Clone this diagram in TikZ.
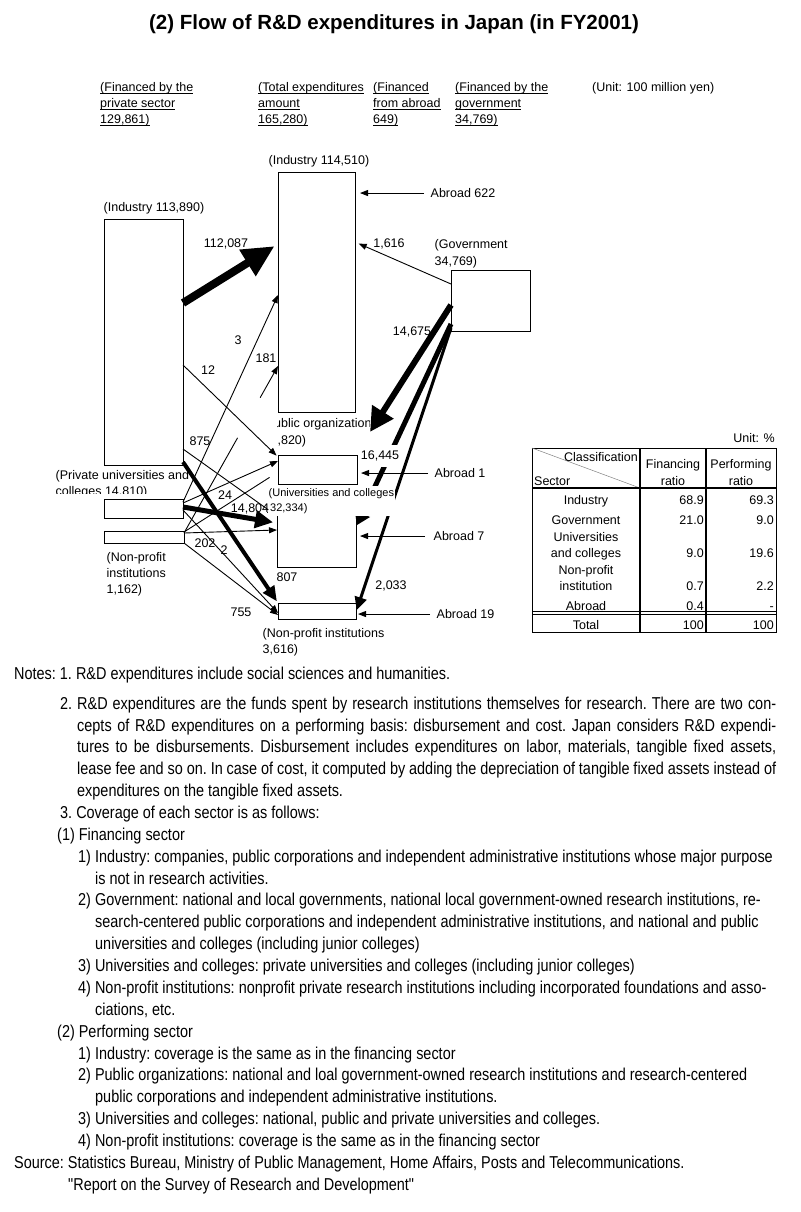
\documentclass[tikz,border=0pt]{standalone}
\usepackage{fontspec}
\setmainfont{Liberation Sans}
\newfontfamily\narrowfont{Liberation Sans}[FakeStretch=0.84]
\usetikzlibrary{arrows.meta,calc}
\newcommand\ulx[1]{\underline{\raisebox{0pt}[\height][0pt]{#1}}}
\begin{document}
\begin{tikzpicture}[x=1pt,y=-1pt,
  box/.style={draw, line width=0.9pt, inner sep=0pt, outer sep=0pt, anchor=north west},
  lbl/.style={inner sep=0.5pt, font=\fontsize{12.5}{16}\selectfont, align=left},
  small/.style={inner sep=0.5pt, font=\fontsize{11}{15.5}\selectfont, align=left},
  hdr/.style={inner sep=0pt, anchor=north west, font=\fontsize{12.5}{16}\selectfont, align=left},
  thinln/.style={line width=0.9pt},
  thinar/.style={line width=0.9pt, -{Triangle[length=8pt,width=6pt]}},
  note/.style={inner sep=0pt, anchor=base west, font={\narrowfont\fontsize{17.2}{21}\selectfont\frenchspacing}},
  tcell/.style={inner sep=0pt, font=\fontsize{12.5}{15}\selectfont},
]
\useasboundingbox (0,0) rectangle (800,1212);

% title
\node[font=\bfseries\fontsize{20.5}{24}\selectfont, anchor=base, inner sep=0pt] (title) at (394,29.3) {(2) Flow of R\&D expenditures in Japan (in FY2001)};

% headers
\node[hdr] (h1) at (100,82.4) {\ulx{(Financed by the}\\\ulx{private sector}\\\ulx{129,861)}};
\node[hdr] (h2) at (258,82.4) {\ulx{(Total expenditures}\\\ulx{amount}\\\ulx{165,280)}};
\node[hdr] (h3) at (373,82.4) {\ulx{(Financed}\\\ulx{from abroad}\\\ulx{649)}};
\node[hdr] (h4) at (455,82.4) {\ulx{(Financed by the}\\\ulx{government}\\\ulx{34,769)}};
\node[hdr] (h5) at (592,82.4) {(Unit: 100 million yen)};

% boxes
\node[box, minimum width=79pt, minimum height=246pt] (indL) at (104,219) {};
\node[box, minimum width=77pt, minimum height=240pt] (indM) at (278,172) {};
\node[box, minimum width=79pt, minimum height=61pt] (gov) at (451,270) {};
\node[box, minimum width=79pt, minimum height=29pt] (univ) at (278,455) {};
\node[box, minimum width=79pt, minimum height=53pt] (pub) at (277,514) {};
\node[box, minimum width=78pt, minimum height=16pt] (npoP) at (278,603) {};
\node[box, minimum width=79pt, minimum height=19pt] (puF) at (104,499) {};
\node[box, minimum width=80pt, minimum height=12pt] (npoF) at (104,531) {};

% abroad labels
\node[lbl, anchor=base west] (ab622) at (430,197.5) {Abroad 622};
\node[lbl, anchor=base west] (ab1) at (434,477.5) {Abroad 1};
\node[lbl, anchor=base west] (ab7) at (433,540.5) {Abroad 7};
\node[lbl, anchor=base west] (ab19) at (436,618.5) {Abroad 19};
\draw[thinar, shorten >=5pt] ([xshift=-6pt]ab622.west) -- (indM.east |- ab622.west);
\draw[thinar, shorten >=4pt] ([xshift=-6pt]ab1.west) -- (univ.east |- ab1.west);
\draw[thinar, shorten >=4pt] ([xshift=-8pt]ab7.west) -- (pub.east |- ab7.west);
\draw[thinar, shorten >=2pt] ([xshift=-6pt]ab19.west) -- (npoP.east |- ab19.west);

% government arrows
\draw[thinar, shorten >=4pt] (gov.west |- 0,284) -- (indM.east |- 0,242);
\coordinate (tip14675) at (370,432);
\draw[line width=6pt, -{Triangle[length=24pt,width=24pt]}] (gov.west |- 0,305) -- (tip14675);
\draw[line width=5pt, -{Triangle[length=13pt,width=16pt]}, shorten >=2pt] (gov.west |- 0,324) -- (pub.east |- 0,527);
\draw[line width=3pt, -{Triangle[length=13pt,width=12pt]}, shorten >=2pt] (gov.west |- 0,328) -- (npoP.east |- 0,612);

% industry arrows
\draw[line width=8pt, -{Triangle[length=32pt,width=29pt]}, shorten >=4pt] (indL.east |- 0,303) -- (indM.west |- 0,244);
\draw[thinar, shorten >=2pt] (indL.east |- 0,365) -- (univ.west |- 0,457);
\draw[thinar, shorten >=2pt] (indL.east |- 0,449) -- (pub.west |- 0,516);
\draw[line width=4pt, -{Triangle[length=15pt,width=13pt]}, shorten >=2pt] (indL.east |- 0,462) -- (npoP.west |- 0,603);

% private universities arrows
\draw[thinar] (puF.east |- 0,502) -- (indM.west |- 0,295);
\draw[thinar] (puF.east |- 0,503) -- (univ.west |- 0,461);
\draw[line width=5pt, -{Triangle[length=18pt,width=17pt]}, shorten >=4pt] (puF.east |- 0,507) -- (pub.west |- 0,523);
\draw[thinar] (puF.east |- 0,510) -- (npoP.west |- 0,613);

% non-profit arrows
\coordinate (s181) at (npoF.east |- 0,533);
\coordinate (e181) at (indM.west |- 0,366);
\draw[thinln] (s181) -- ($(s181)!0.57!(e181)$);
\draw[thinar] ($(s181)!0.81!(e181)$) -- (e181);
\draw[thinln, shorten >=10pt] (npoF.east |- 0,532) -- (univ.west |- 0,472);
\draw[thinar] (npoF.east |- 0,533) -- (pub.west |- 0,530);
\draw[thinar] (npoF.south east) -- (npoP.west |- 0,615);

% box labels
\node[lbl, anchor=base west] (tindL) at (103,211.5) {(Industry 113,890)};
\node[lbl, anchor=base west] (tindM) at (268,164.5) {(Industry 114,510)};
\node[lbl, anchor=north west, font=\fontsize{12.5}{17}\selectfont] (tgov) at (434,238.4) {(Government\\34,769)};
\node[lbl, anchor=north west] (tnpoP) at (262,627.4) {(Non-profit institutions\\3,616)};
\node[lbl, anchor=north west] (tnpoF) at (106,551.4) {(Non-profit\\institutions\\1,162)};
\begin{scope}
  \clip (0,460) rectangle (260,493.5);
  \node[lbl, anchor=north west] (tpuF) at (55,469.4) {(Private universities and\\colleges 14,810)};
\end{scope}
\begin{scope}
  \clip (277.5,412) rectangle (369,450);
  \node[lbl, anchor=base west] (tpub1) at (261,427.5) {(Public organizations};
  \node[lbl, anchor=base west] (tpub2) at (263,444) {21,820)};
\end{scope}
\node[small, anchor=north west, fill=white, inner xsep=0.5pt, inner ysep=2.5pt, minimum height=27pt] (tuniv) at (268,485.5) {(Universities and colleges\\\hspace{1.5pt}32,334)};

% flow values
\node[lbl, anchor=base] (v112087) at (226,247.5) {112,087};
\node[lbl, anchor=base] (v1616) at (389,247.5) {1,616};
\node[lbl, anchor=base] (v14675) at (412,335.5) {14,675};
\node[lbl, anchor=base, fill=white, inner xsep=1pt, inner ysep=6pt] (v16445) at (380,459.5) {16,445};
\node[lbl, anchor=base] (v2033) at (391,589.5) {2,033};
\node[lbl, anchor=base] (v3) at (238,344.5) {3};
\node[lbl, anchor=base] (v181) at (266,362.5) {181};
\node[lbl, anchor=base] (v12) at (208,374.5) {12};
\node[lbl, anchor=base] (v875) at (200,445.5) {875};
\node[lbl, anchor=base] (v24) at (225,499.5) {24};
\node[lbl, anchor=base] (v14804) at (250,512.5) {14,804};
\node[lbl, anchor=base] (v202) at (205,547.5) {202};
\node[lbl, anchor=base] (v2) at (224,554.5) {2};
\node[lbl, anchor=base] (v807) at (287,581.5) {807};
\node[lbl, anchor=base] (v755) at (241,616.5) {755};

% table
\node[tcell, anchor=base east] (tunit) at (775,442.5) {Unit: \%};
\draw[line width=0.9pt] (532,448) rectangle (776,632);
\draw[line width=0.5pt, gray] (532,448) -- (640,488);
\draw[line width=1.6pt] (640,448) -- (640,632) (706,448) -- (706,632);
\draw[line width=1.6pt] (532,488) -- (776,488);
\draw[line width=0.8pt] (532,611.5) -- (776,611.5) (532,614.5) -- (776,614.5);
\node[tcell, anchor=base east] (tcls) at (638,461.5) {Classification};
\node[tcell, anchor=base west] (tsec) at (534,485.5) {Sector};
\node[tcell, anchor=base] (tfin1) at (673,468.5) {Financing};
\node[tcell, anchor=base] (tfin2) at (673,485.5) {ratio};
\node[tcell, anchor=base] (tper1) at (741,468.5) {Performing};
\node[tcell, anchor=base] (tper2) at (741,485.5) {ratio};
\node[tcell, anchor=base] (r1) at (586,504.5) {Industry};
\node[tcell, anchor=base] (r2) at (586,524.5) {Government};
\node[tcell, anchor=base] (r3a) at (586,541.5) {Universities};
\node[tcell, anchor=base] (r3b) at (586,557.5) {and colleges};
\node[tcell, anchor=base] (r4a) at (586,574.5) {Non-profit};
\node[tcell, anchor=base] (r4b) at (586,590.5) {institution};
\node[tcell, anchor=base] (r5) at (586,610.5) {Abroad};
\node[tcell, anchor=base] (r6) at (586,629.5) {Total};
\node[tcell, anchor=base east] at (704,504.5) {68.9};
\node[tcell, anchor=base east] at (774,504.5) {69.3};
\node[tcell, anchor=base east] at (704,524.5) {21.0};
\node[tcell, anchor=base east] at (774,524.5) {9.0};
\node[tcell, anchor=base east] at (704,557.5) {9.0};
\node[tcell, anchor=base east] at (774,557.5) {19.6};
\node[tcell, anchor=base east] at (704,590.5) {0.7};
\node[tcell, anchor=base east] at (774,590.5) {2.2};
\node[tcell, anchor=base east] at (704,610.5) {0.4};
\node[tcell, anchor=base east] at (774,610.5) {-};
\node[tcell, anchor=base east] at (704,629.5) {100};
\node[tcell, anchor=base east] at (774,629.5) {100};

% notes
\node[note] (n1) at (14,679) {Notes: 1. R\&D expenditures include social sciences and humanities.};
\node[note] (n2n) at (60,709.2) {2.};
\node[note] (n2a) at (77,709.2) {\makebox[699pt][s]{R\&D expenditures are the funds spent by research institutions themselves for research. There are two con-}};
\node[note] (n2b) at (77,731.1) {\makebox[699pt][s]{cepts of R\&D expenditures on a performing basis: disbursement and cost. Japan considers R\&D expendi-}};
\node[note] (n2c) at (77,752.9) {\makebox[699pt][s]{tures to be disbursements. Disbursement includes expenditures on labor, materials, tangible fixed assets,}};
\node[note] (n2d) at (77,774.8) {\makebox[699pt][s]{lease fee and so on. In case of cost, it computed by adding the depreciation of tangible fixed assets instead of}};
\node[note] (n2e) at (77,796.6) {expenditures on the tangible fixed assets.};
\node[note] (n3) at (60,818.5) {3. Coverage of each sector is as follows:};
\node[note] (n31) at (57,840.4) {(1) Financing sector};
\node[note] (n311) at (78,862.2) {1) Industry: companies, public corporations and independent administrative institutions whose major purpose};
\node[note] (n311b) at (95,884.1) {is not in research activities.};
\node[note] (n312) at (78,905.9) {2) Government: national and local governments, national local government-owned research institutions, re-};
\node[note] (n312b) at (95,927.8) {search-centered public corporations and independent administrative institutions, and national and public};
\node[note] (n312c) at (95,949.7) {universities and colleges (including junior colleges)};
\node[note] (n313) at (78,971.5) {3) Universities and colleges: private universities and colleges (including junior colleges)};
\node[note] (n314) at (78,993.4) {4) Non-profit institutions: nonprofit private research institutions including incorporated foundations and asso-};
\node[note] (n314b) at (95,1015.2) {ciations, etc.};
\node[note] (n32) at (57,1037.1) {(2) Performing sector};
\node[note] (n321) at (78,1059) {1) Industry: coverage is the same as in the financing sector};
\node[note] (n322) at (78,1080.8) {2) Public organizations: national and loal government-owned research institutions and research-centered};
\node[note] (n322b) at (95,1102.7) {public corporations and independent administrative institutions.};
\node[note] (n323) at (78,1124.5) {3) Universities and colleges: national, public and private universities and colleges.};
\node[note] (n324) at (78,1146.4) {4) Non-profit institutions: coverage is the same as in the financing sector};
\node[note] (nsrc) at (14,1168.2) {Source: Statistics Bureau, Ministry of Public Management, Home Affairs, Posts and Telecommunications.};
\node[note] (nrep) at (68,1190.1) {"Report on the Survey of Research and Development"};
\end{tikzpicture}
\end{document}
